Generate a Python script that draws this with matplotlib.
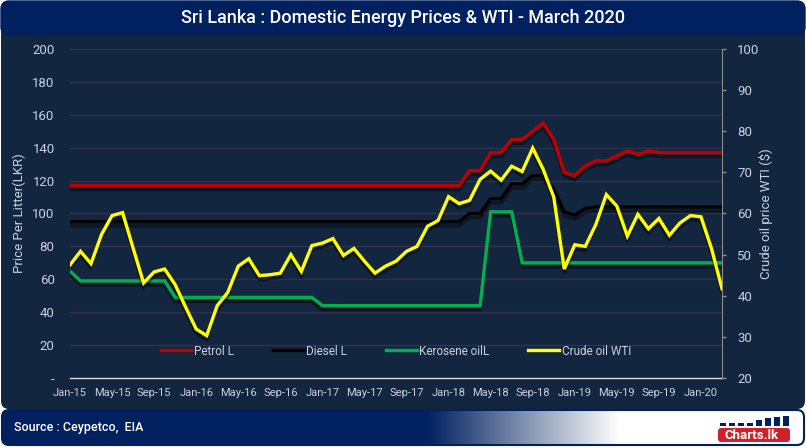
import matplotlib
matplotlib.use("Agg")
import matplotlib.pyplot as plt
import matplotlib.patheffects as pe
from matplotlib.patches import FancyBboxPatch
import numpy as np

plt.rcParams['font.family'] = ['Roboto', 'DejaVu Sans']

# ---------------- data ----------------
months = ["Jan-15", "Feb-15", "Mar-15", "Apr-15", "May-15", "Jun-15", "Jul-15", "Aug-15", "Sep-15", "Oct-15", "Nov-15", "Dec-15",
          "Jan-16", "Feb-16", "Mar-16", "Apr-16", "May-16", "Jun-16", "Jul-16", "Aug-16", "Sep-16", "Oct-16", "Nov-16", "Dec-16",
          "Jan-17", "Feb-17", "Mar-17", "Apr-17", "May-17", "Jun-17", "Jul-17", "Aug-17", "Sep-17", "Oct-17", "Nov-17", "Dec-17",
          "Jan-18", "Feb-18", "Mar-18", "Apr-18", "May-18", "Jun-18", "Jul-18", "Aug-18", "Sep-18", "Oct-18", "Nov-18", "Dec-18",
          "Jan-19", "Feb-19", "Mar-19", "Apr-19", "May-19", "Jun-19", "Jul-19", "Aug-19", "Sep-19", "Oct-19", "Nov-19", "Dec-19",
          "Jan-20", "Feb-20", "Mar-20"]

petrol = [117, 117, 117, 117, 117, 117, 117, 117, 117, 117, 117, 117,
          117, 117, 117, 117, 117, 117, 117, 117, 117, 117, 117, 117,
          117, 117, 117, 117, 117, 117, 117, 117, 117, 117, 117, 117,
          117, 117, 126, 126, 137, 137, 145, 145, 150, 155, 145, 125,
          123, 129, 132, 132, 135, 138, 136, 138, 137, 137, 137, 137,
          137, 137, 137]

diesel = [95, 95, 95, 95, 95, 95, 95, 95, 95, 95, 95, 95,
          95, 95, 95, 95, 95, 95, 95, 95, 95, 95, 95, 95,
          95, 95, 95, 95, 95, 95, 95, 95, 95, 95, 95, 95,
          95, 95, 100, 100, 109, 109, 118, 118, 123, 123, 115, 101,
          99, 103, 104, 104, 104, 104, 104, 104, 104, 104, 104, 104,
          104, 104, 104]

kerosene = [65, 59, 59, 59, 59, 59, 59, 59, 59, 59, 49, 49,
            49, 49, 49, 49, 49, 49, 49, 49, 49, 49, 49, 49,
            44, 44, 44, 44, 44, 44, 44, 44, 44, 44, 44, 44,
            44, 44, 44, 44, 101, 101, 101, 70, 70, 70, 70, 70,
            70, 70, 70, 70, 70, 70, 70, 70, 70, 70, 70, 70,
            70, 70, 70]

wti = [47.5, 50.8, 47.8, 54.9, 59.5, 60.2, 51.6, 43.1, 45.8, 46.5, 42.7, 37.2,
       31.9, 30.3, 37.6, 40.8, 47.2, 49.0, 44.9, 45.1, 45.5, 50.0, 45.9, 52.2,
       52.8, 53.9, 49.8, 51.5, 48.4, 45.5, 47.2, 48.4, 50.8, 52.0, 56.9, 58.3,
       64.1, 62.4, 63.2, 68.3, 70.3, 68.1, 71.5, 70.2, 75.9, 70.7, 64.0, 46.5,
       52.4, 52.0, 57.3, 64.6, 61.8, 54.5, 59.8, 56.3, 58.8, 54.7, 57.7, 59.5,
       59.2, 51.5, 41.7]

series_names = ["Petrol L", "Diesel L", "Kerosene oilL", "Crude oil WTI"]
left_ticks = [0, 20, 40, 60, 80, 100, 120, 140, 160, 180, 200]
left_ticklabels = ["-", "20", "40", "60", "80", "100", "120", "140", "160", "180", "200"]
right_ticks = [20, 30, 40, 50, 60, 70, 80, 90, 100]

title = "Sri Lanka : Domestic Energy Prices & WTI - March 2020"
source = "Source : Ceypetco,  EIA"

# ---------------- style ----------------
W, H = 806, 448
BG = "#13263f"
NAVY = "#002060"
TXT = "#c9d1e0"
GRID = "#33304f"
colors = ["#c00000", "#000000", "#00b050", "#ffff00"]

fig = plt.figure(figsize=(W / 100, H / 100), dpi=100)
fig.patch.set_facecolor("white")

# background / decoration axes in pixel coords
bg = fig.add_axes([0, 0, 1, 1], zorder=0)
bg.set_xlim(0, W)
bg.set_ylim(H, 0)
bg.axis("off")

bg.add_patch(FancyBboxPatch((1, 1), W - 2, 408, boxstyle="round,pad=0,rounding_size=8",
                            facecolor=BG, edgecolor="none"))
bg.add_patch(FancyBboxPatch((1, 1), W - 2, 34, boxstyle="round,pad=0,rounding_size=8",
                            facecolor=NAVY, edgecolor=NAVY))
bg.text(W / 2, 18, title, color="white", fontsize=13, fontweight="medium", ha="center", va="center")

# footer with gradient
footer = FancyBboxPatch((2, 410), W - 4, 35, boxstyle="round,pad=0,rounding_size=7",
                        facecolor="none", edgecolor=NAVY, linewidth=1.5, zorder=3)
bg.add_patch(footer)
xs = np.linspace(0, 1, 400)
c0 = np.array([0 / 255, 32 / 255, 96 / 255])
c1 = np.array([1.0, 1.0, 1.0])
t = np.clip((xs - 0.53) / (0.77 - 0.53), 0, 1)
grad = (c0[None, :] * (1 - t[:, None]) + c1[None, :] * t[:, None])[None, :, :]
im = bg.imshow(grad, extent=(2, W - 2, 445, 410), aspect="auto", zorder=2)
im.set_clip_path(footer)
bg.text(14, 428, source, color="white", fontsize=9, fontweight="medium", ha="left", va="center", zorder=4)
# logo
bg.add_patch(FancyBboxPatch((718, 428), 72, 14, boxstyle="round,pad=0,rounding_size=3",
                            facecolor="#d0202a", edgecolor="none", zorder=4))
bg.text(752, 435.5, "Charts.lk", color="white", fontsize=9.5, fontweight="bold",
        ha="center", va="center", zorder=5)
for bx, bh in zip([720, 729, 738, 747, 756, 765, 774, 783], [3, 3, 3, 3, 6, 8, 9, 10]):
    bg.add_patch(plt.Rectangle((bx, 426 - bh), 6, bh, facecolor=NAVY, edgecolor="none", zorder=4))

# main axes
L, R = 70 / W, 722 / W
B, T = 1 - 378 / H, 1 - 49 / H
ax = fig.add_axes([L, B, R - L, T - B], zorder=1)
ax.set_facecolor("none")
ax2 = ax.twinx()
ax2.set_zorder(2)

x = np.arange(len(months))
shadow = [pe.SimpleLineShadow(offset=(0, -3), shadow_color="black", alpha=0.4), pe.Normal()]

for vals, c, name in zip([petrol, diesel, kerosene], colors[:3], series_names[:3]):
    ax.plot(x, vals, color=c, lw=2.4, solid_joinstyle="miter", path_effects=shadow, label=name, zorder=3)
ax2.plot(x, wti, color=colors[3], lw=2.4, solid_joinstyle="miter", path_effects=shadow, label=series_names[3], zorder=3)

ax.set_xlim(0, len(months) - 1)
ax.set_ylim(0, 200)
ax2.set_ylim(20, 100)

ax.set_yticks(left_ticks)
ax.set_yticklabels(left_ticklabels)
ax2.set_yticks(right_ticks)
ax.set_xticks(x[::4])
ax.set_xticklabels(months[::4])

ax.grid(axis="y", color=GRID, lw=1)
ax.set_axisbelow(True)
for s in ["top", "left", "right"]:
    ax.spines[s].set_visible(False)
ax.spines["bottom"].set_color("#d9d9d9")
ax.spines["bottom"].set_linewidth(1)
for s in ["top", "left", "bottom"]:
    ax2.spines[s].set_visible(False)
ax2.spines["right"].set_color("#8c8c8c")

ax.tick_params(axis="y", length=0, pad=11, labelcolor=TXT, labelsize=9.5)
ax.tick_params(axis="x", length=0, pad=7, labelcolor=TXT, labelsize=8)
ax2.tick_params(axis="y", length=3, width=1, color="#8c8c8c", pad=8, labelcolor=TXT, labelsize=9.5)

ax.set_ylabel("Price Per Litter(LKR)", color=TXT, fontsize=9.5)
ax.yaxis.set_label_coords(-44 / 652, 0.5)
ax2.set_ylabel("Crude oil price WTI ($)", color=TXT, fontsize=9.5, rotation=90)
ax2.yaxis.set_label_coords(1 + 37 / 652, 0.5)

leg_handles = [plt.Line2D([], [], color=c, lw=2.4) for c in colors]
ax.legend(leg_handles, series_names, loc="center", bbox_to_anchor=(0.5, 0.082), ncol=4,
          frameon=False, handlelength=2.6, handletextpad=0.2, columnspacing=3.3,
          fontsize=8.5, labelcolor=TXT)

fig.savefig("out.png", dpi=100, facecolor=fig.get_facecolor())
